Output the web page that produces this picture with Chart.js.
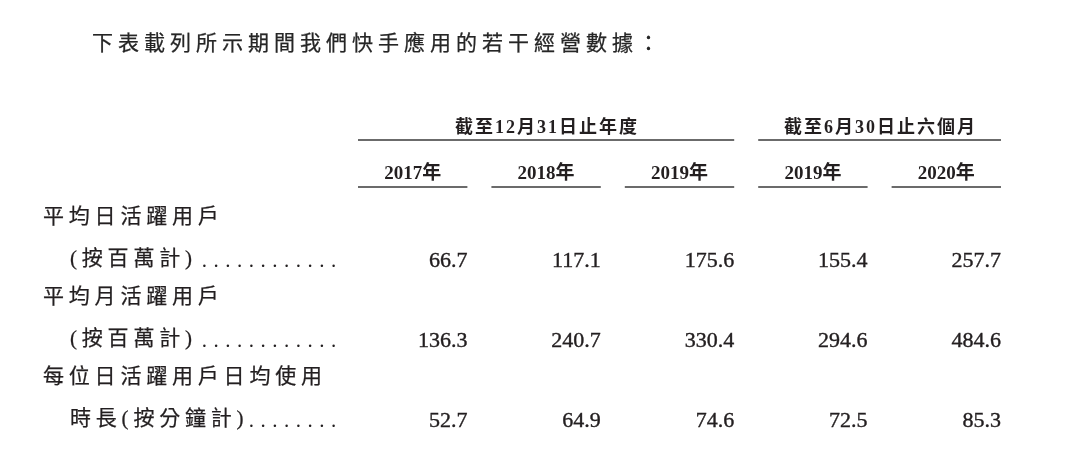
<!DOCTYPE html>
<html>
<head>
<meta charset="utf-8">
<script src="https://cdn.jsdelivr.net/npm/chart.js@4.4.1/dist/chart.umd.min.js"></script>
<style>
  html, body { margin: 0; padding: 0; background: #ffffff; }
  #wrap { width: 1080px; height: 474px; position: relative; }
</style>
</head>
<body>
<div id="wrap"><canvas id="c"></canvas></div>
<script>
// ---- data ----
const titleText = '下表載列所示期間我們快手應用的若干經營數據：';
const groupLabels = ['截至12月31日止年度', '截至6月30日止六個月'];
const groupFirstColumn = [0, 3];
const groupLastColumn = [2, 4];
const columnKeys = ['FY2017', 'FY2018', 'FY2019', 'H1 2019', 'H1 2020'];
const columnLabels = ['2017年', '2018年', '2019年', '2019年', '2020年'];
const metricKeys = ['dau', 'mau', 'duration'];
const metricNames = ['平均日活躍用戶', '平均月活躍用戶', '每位日活躍用戶日均使用'];
const metricUnits = ['(按百萬計)', '(按百萬計)', '時長(按分鐘計)'];
const leaderDots = [12, 12, 8];
const dauValues = [66.7, 117.1, 175.6, 155.4, 257.7];
const mauValues = [136.3, 240.7, 330.4, 294.6, 484.6];
const durationValues = [52.7, 64.9, 74.6, 72.5, 85.3];
const seriesValues = [dauValues, mauValues, durationValues];

// ---- styles ----
const INK = '#231f20';
const RULE = '#3a3a3a';
const SERIF = "'Liberation Serif', 'Noto Sans CJK TC'";

function textWidth(ctx, text, spacing) {
  const chars = Array.from(text);
  let w = 0;
  chars.forEach((ch, i) => { w += ctx.measureText(ch).width + (i < chars.length - 1 ? spacing : 0); });
  return w;
}
function drawSpaced(ctx, text, x, y, spacing, align, stroke) {
  let cx = x;
  if (align === 'center') cx = x - textWidth(ctx, text, spacing) / 2;
  else if (align === 'right') cx = x - textWidth(ctx, text, spacing);
  ctx.textAlign = 'left';
  for (const ch of Array.from(text)) {
    ctx.fillText(ch, cx, y);
    if (stroke) ctx.strokeText(ch, cx, y);
    cx += ctx.measureText(ch).width + spacing;
  }
  return cx;
}

const tablePlugin = {
  id: 'tablePlugin',
  afterDatasetsDraw(chart) {
    const ctx = chart.ctx;
    const xs = chart.scales.x, ys = chart.scales.y;
    const pitch = xs.getPixelForValue(1) - xs.getPixelForValue(0);
    const half = pitch * 0.41;
    const r0 = ys.getPixelForValue(0);
    ctx.save();
    ctx.fillStyle = INK;

    // title
    ctx.font = "21px 'Noto Sans CJK TC'";
    ctx.fillStyle = '#262626';
    ctx.strokeStyle = '#262626';
    ctx.lineWidth = 0.25;
    ctx.textBaseline = 'middle';
    drawSpaced(ctx, titleText, 92, 42.5, 5, 'left', true);
    ctx.fillStyle = INK;

    // group headers
    groupLabels.forEach((g, i) => {
      const l = xs.getPixelForValue(groupFirstColumn[i]) - half;
      const r = xs.getPixelForValue(groupLastColumn[i]) + half;
      ctx.font = 'bold 18px ' + SERIF;
      ctx.textBaseline = 'alphabetic';
      drawSpaced(ctx, g, (l + r) / 2, r0 - 126.5, 2, 'center', false);
      ctx.strokeStyle = RULE;
      ctx.lineWidth = 1.5;
      ctx.beginPath();
      ctx.moveTo(l, r0 - 119.5);
      ctx.lineTo(r, r0 - 119.5);
      ctx.stroke();
    });

    // column headers
    columnLabels.forEach((c, i) => {
      const cx = xs.getPixelForValue(i);
      ctx.font = 'bold 19px ' + SERIF;
      ctx.textBaseline = 'alphabetic';
      drawSpaced(ctx, c, cx, r0 - 81, 0, 'center', false);
      ctx.strokeStyle = RULE;
      ctx.lineWidth = 1.5;
      ctx.beginPath();
      ctx.moveTo(cx - half, r0 - 72.5);
      ctx.lineTo(cx + half, r0 - 72.5);
      ctx.stroke();
    });

    // row labels
    ctx.strokeStyle = INK;
    ctx.lineWidth = 0.25;
    metricNames.forEach((name, r) => {
      const ry = ys.getPixelForValue(r);
      ctx.font = '21px ' + SERIF;
      ctx.textBaseline = 'middle';
      drawSpaced(ctx, name, 43, ry - 42, 4.8, 'left', true);
      drawSpaced(ctx, metricUnits[r], 70, ry, 4.8, 'left', true);
      ctx.textAlign = 'center';
      ctx.textBaseline = 'alphabetic';
      for (let k = 0; k < leaderDots[r]; k++) {
        ctx.fillText('.', 333.5 - k * 11.75, ry + 7);
      }
    });

    // values
    ctx.lineWidth = 0.4;
    chart.data.datasets.forEach((ds, d) => {
      const meta = chart.getDatasetMeta(d);
      meta.data.forEach((el, i) => {
        const txt = ds.data[i].v.toFixed(1);
        ctx.font = '22px ' + SERIF;
        ctx.textAlign = 'right';
        ctx.textBaseline = 'alphabetic';
        ctx.fillText(txt, el.x + half, el.y + 7.5);
        ctx.strokeText(txt, el.x + half, el.y + 7.5);
      });
    });
    ctx.restore();
  }
};

new Chart(document.getElementById('c'), {
  type: 'line',
  data: {
    datasets: seriesValues.map((vals, r) => ({
      label: metricNames[r],
      data: vals.map((v, i) => ({ x: columnKeys[i], y: metricKeys[r], v: v })),
      showLine: false,
      pointRadius: 0,
      pointHoverRadius: 0
    }))
  },
  options: {
    responsive: true,
    maintainAspectRatio: false,
    animation: false,
    events: [],
    layout: { padding: { left: 346, right: 67, top: 219.5, bottom: 14 } },
    plugins: { legend: { display: false }, tooltip: { enabled: false } },
    scales: {
      x: { type: 'category', labels: columnKeys, offset: true, display: false },
      y: { type: 'category', labels: metricKeys, offset: true, display: false }
    }
  },
  plugins: [tablePlugin]
});
</script>
</body>
</html>
